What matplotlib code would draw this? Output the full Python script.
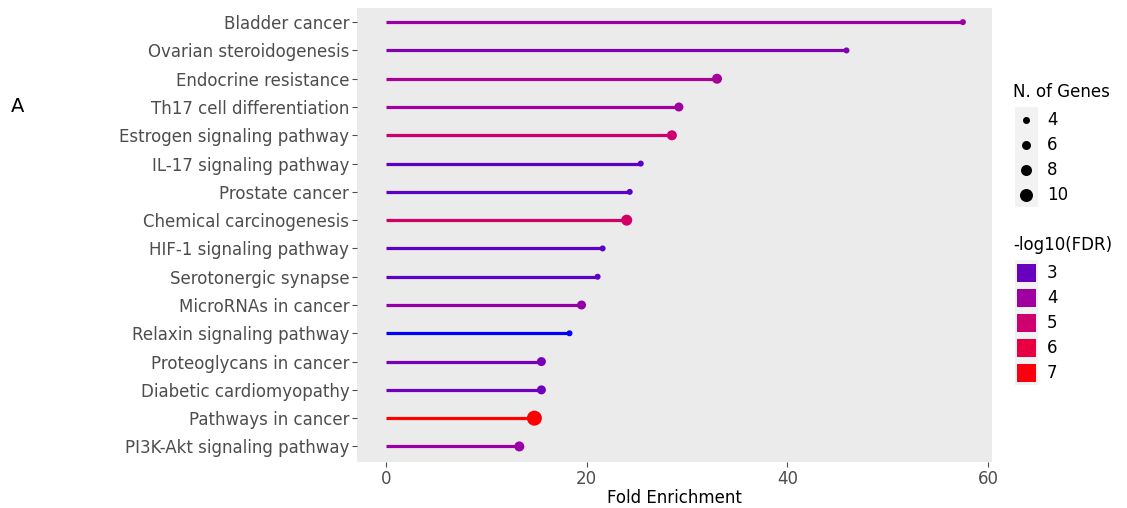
import matplotlib
matplotlib.use("Agg")
import matplotlib.pyplot as plt
import numpy as np
from matplotlib.colors import LinearSegmentedColormap, Normalize
from matplotlib.patches import Rectangle

pathways = ["Bladder cancer", "Ovarian steroidogenesis", "Endocrine resistance",
            "Th17 cell differentiation", "Estrogen signaling pathway", "IL-17 signaling pathway",
            "Prostate cancer", "Chemical carcinogenesis", "HIF-1 signaling pathway",
            "Serotonergic synapse", "MicroRNAs in cancer", "Relaxin signaling pathway",
            "Proteoglycans in cancer", "Diabetic cardiomyopathy", "Pathways in cancer",
            "PI3K-Akt signaling pathway"]
fold_enrichment = [57.5, 45.9, 33.0, 29.2, 28.5, 25.4, 24.3, 24.0, 21.6, 21.1, 19.5, 18.3,
                   15.5, 15.5, 14.8, 13.3]
n_genes = [3, 3, 7, 6, 7, 3, 3, 8, 3, 3, 6, 3, 6, 6, 12, 7]
log_fdr = [3.9, 3.4, 4.2, 4.0, 5.0, 2.9, 2.9, 5.2, 2.9, 2.9, 3.8, 2.3, 3.2, 3.1, 7.3, 3.9]

size_breaks = [4, 6, 8, 10]
color_breaks = [3, 4, 5, 6, 7]

# blue -> red gradient (roughly ggplot's Lab interpolation)
vmin, vmax = 2.3, 7.3
anchors = [(2.3, (0, 0, 255)), (3, (108, 0, 190)), (4, (160, 0, 160)), (5, (205, 0, 110)),
           (6, (230, 0, 66)), (7, (250, 0, 14)), (7.3, (255, 0, 0))]
cmap = LinearSegmentedColormap.from_list(
    "fdr", [((v - vmin) / (vmax - vmin), tuple(c / 255 for c in rgb)) for v, rgb in anchors])
norm = Normalize(vmin, vmax)


def marker_area(n):
    # diameter in px ~ 3 + n, converted to points^2
    return (0.72 * (3 + n)) ** 2


W, H = 1127, 508
fig = plt.figure(figsize=(W / 100, H / 100), dpi=100)
ax = fig.add_axes([357 / W, 1 - 462 / H, (992 - 357) / W, (462 - 8) / H])
ax.set_facecolor("#ebebeb")

y = np.arange(len(pathways))[::-1]
cols = cmap(norm(np.array(log_fdr)))
ax.hlines(y, 0, fold_enrichment, colors=cols, linewidth=2.3, zorder=2)
ax.scatter(fold_enrichment, y, s=[marker_area(n) for n in n_genes], c=cols, zorder=3,
           linewidths=0)

ax.set_xlim(-2.875, 60.4)
ax.set_ylim(-0.55, len(pathways) - 0.5)
ax.set_yticks(y)
ax.set_yticklabels(pathways)
ax.set_xticks([0, 20, 40, 60])
for s in ax.spines.values():
    s.set_visible(False)
ax.tick_params(axis="both", colors="#4d4d4d", labelcolor="#4d4d4d", labelsize=12,
               length=3.5, width=0.8)
ax.tick_params(axis="y", pad=2)
ax.tick_params(axis="x", pad=2)
ax.set_xlabel("Fold Enrichment", fontsize=12, labelpad=1)

fig.text(18 / W, 1 - 107 / H, "A", fontsize=14, ha="center", va="center")

# legends drawn in pixel coordinates
lg = fig.add_axes([0, 0, 1, 1])
lg.set_xlim(0, W)
lg.set_ylim(H, 0)
lg.axis("off")

lg.text(1013, 92, "N. of Genes", fontsize=12, va="center", ha="left")
lg.add_patch(Rectangle((1015, 107), 23, 100, color="#f2f2f2", lw=0))
for i, b in enumerate(size_breaks):
    yy = 120 + i * 25
    lg.scatter(1026, yy, s=marker_area(b), color="black", linewidths=0)
    lg.text(1047, yy, str(b), fontsize=12, va="center", ha="left")

lg.text(1013, 245, "-log10(FDR)", fontsize=12, va="center", ha="left")
lg.add_patch(Rectangle((1015, 260), 23, 125, color="#f2f2f2", lw=0))
for i, b in enumerate(color_breaks):
    yy = 273 + i * 25
    lg.add_patch(Rectangle((1017, yy - 9), 19, 18, color=cmap(norm(b)), lw=0))
    lg.text(1047, yy, str(b), fontsize=12, va="center", ha="left")

fig.savefig("out.png", dpi=100)
